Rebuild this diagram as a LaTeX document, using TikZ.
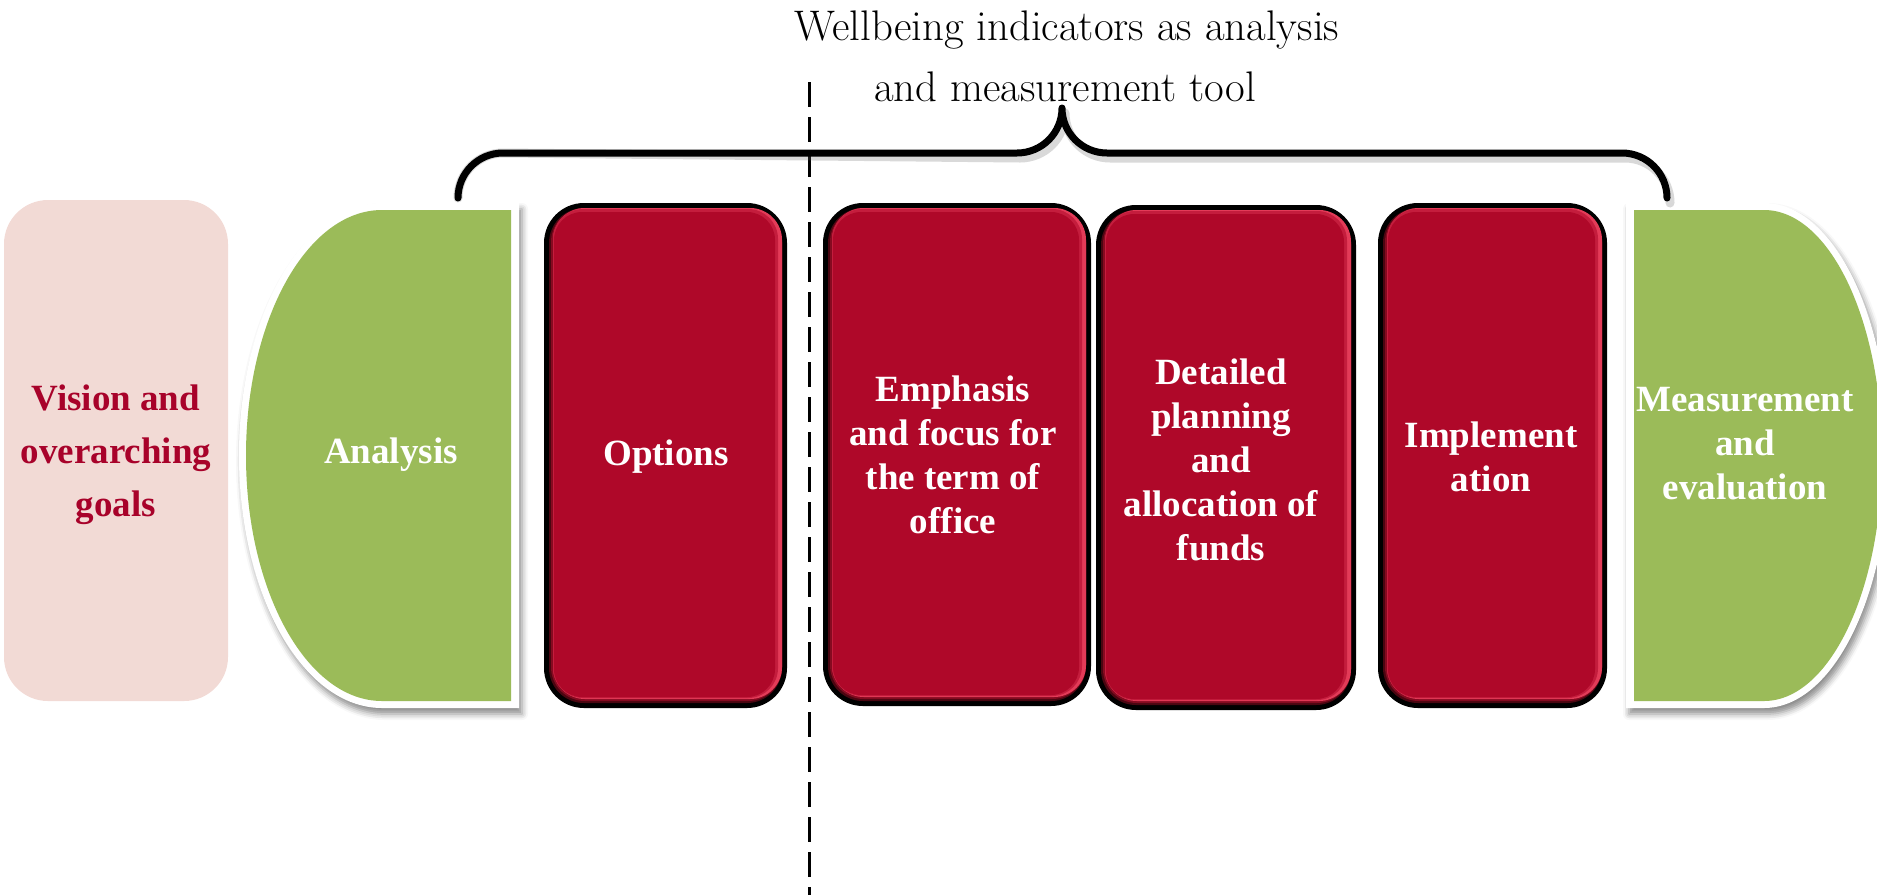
\documentclass[tikz,border=0pt]{standalone}
\usepackage{fontspec}
\usetikzlibrary{shadows.blur}
\newfontfamily\boxfont{Liberation Serif}

\definecolor{pinkbg}{HTML}{F2DAD5}
\definecolor{visred}{HTML}{A8022A}
\definecolor{leaf}{HTML}{9BBB59}
\definecolor{wine}{HTML}{AF0829}
\definecolor{wineshine}{HTML}{E33B58}
\definecolor{winesoft}{HTML}{C41D3D}
\definecolor{wineshade}{HTML}{4A0611}
\definecolor{winedim}{HTML}{850A20}

% bevelled crimson card: corners (x0,y0) and (x1,y1), y growing downwards
\newcommand\winecard[4]{%
  \fill[black, rounded corners=20pt] (#1,#2) rectangle (#3,#4);
  \fill[wineshade, rounded corners=17.5pt] ({#1+5},{#2+5}) rectangle ({#3-5},{#4-5});
  \fill[winedim, rounded corners=17pt] ({#1+7},{#2+5}) rectangle ({#3-5},{#4-7});
  \fill[wineshine, rounded corners=16pt] ({#1+9},{#2+5}) rectangle ({#3-5},{#4-9});
  \fill[winesoft, rounded corners=15pt] ({#1+9},{#2+6}) rectangle ({#3-9},{#4-10});
  \fill[wine, rounded corners=14pt] ({#1+10},{#2+9}) rectangle ({#3-12},{#4-11});
}

\tikzset{
  boxtext/.style={text=white, inner sep=0pt, align=center,
    font=\boxfont\bfseries\fontsize{18.5}{22}\selectfont},
  visiontext/.style={text=visred, inner sep=0pt, align=center,
    font=\boxfont\bfseries\fontsize{18.5}{26.5}\selectfont},
  titletext/.style={inner sep=0pt, font=\fontsize{21.4}{30}\selectfont},
  bracepen/.style={line width=3.5pt, line cap=round, line join=round},
  braceshadow/.style={line width=4.5pt, line cap=round, line join=round,
    draw=black!60, opacity=0.25},
  dividerpen/.style={line width=1.5pt, dash pattern=on 12.5pt off 5pt},
  halo/.style={fill=white, blur shadow={shadow xshift=1.5pt, shadow yshift=-3pt,
    shadow blur radius=3pt, shadow opacity=45}},
}

\begin{document}
\begin{tikzpicture}[x={(0.5pt,0)}, y={(0,-0.5pt)}]
  \useasboundingbox (0,0) rectangle (1877,895);
  \clip (0,0) rectangle (1877,895);

  % vision panel
  \fill[pinkbg, rounded corners=22pt] (4,200) rectangle (228,701);
  \node[visiontext] (vision) at (116,455) {Vision and\\overarching\\goals};

  % analysis: half-ellipse on the left, straight right edge
  \fill[halo] (519,203) -- (382,203)
    arc[start angle=90, end angle=270, x radius=71.5pt, y radius=126.25pt]
    -- (519,708) -- cycle;
  \fill[leaf] (511,210) -- (382,210)
    arc[start angle=90, end angle=270, x radius=68pt, y radius=122.75pt]
    -- (511,701) -- cycle;
  \node[boxtext] (analysis) at (391,455) {Analysis};

  % crimson stages
  \winecard{544}{203}{787}{708}
  \node[boxtext] (options) at (666,457) {Options};

  \winecard{823}{203}{1091}{706}
  \node[boxtext] (emphasis) at (953,455) {Emphasis\\and focus for\\the term of\\office};

  \winecard{1096}{205}{1356}{710}
  \node[boxtext] (planning) at (1221,460) {Detailed\\planning\\and\\allocation of\\funds};

  \winecard{1378}{203}{1607}{708}
  \node[boxtext] (implementation) at (1491,457) {Implement\\ation};

  % measurement: straight left edge, half-ellipse on the right
  \fill[halo] (1626,203) -- (1764,203)
    arc[start angle=90, end angle=-90, x radius=62.5pt, y radius=126.25pt]
    -- (1626,708) -- cycle;
  \fill[leaf] (1634,210) -- (1764,210)
    arc[start angle=90, end angle=-90, x radius=59pt, y radius=122.75pt]
    -- (1634,701) -- cycle;
  \node[boxtext] (measurement) at (1745,444) {Measurement\\and\\evaluation};

  % vertical divider
  \coordinate (dividertop) at (809,82);
  \coordinate (dividerbottom) at (809,895);
  \draw[dividerpen] (dividertop) -- (dividerbottom);

  % curly brace over the stages
  \coordinate (braceleft) at (458,198);
  \coordinate (braceright) at (1667,198);
  \begin{scope}[shift={(3,5)}]
    \draw[braceshadow] (braceleft)
      arc[start angle=180, end angle=90, radius=22.5pt] -- (1017,153)
      arc[start angle=270, end angle=360, radius=22.5pt]
      arc[start angle=180, end angle=270, radius=22.5pt] -- (1622,153)
      arc[start angle=90, end angle=0, radius=22.5pt];
  \end{scope}
  \draw[bracepen] (braceleft)
    arc[start angle=180, end angle=90, radius=22.5pt] -- (1017,153)
    arc[start angle=270, end angle=360, radius=22.5pt]
    arc[start angle=180, end angle=270, radius=22.5pt] -- (1622,153)
    arc[start angle=90, end angle=0, radius=22.5pt];

  % heading
  \node[titletext, anchor=base] (title1) at (1067,40) {Wellbeing indicators as analysis};
  \node[titletext, anchor=base] (title2) at (1065,101) {and measurement tool};
\end{tikzpicture}
\end{document}
